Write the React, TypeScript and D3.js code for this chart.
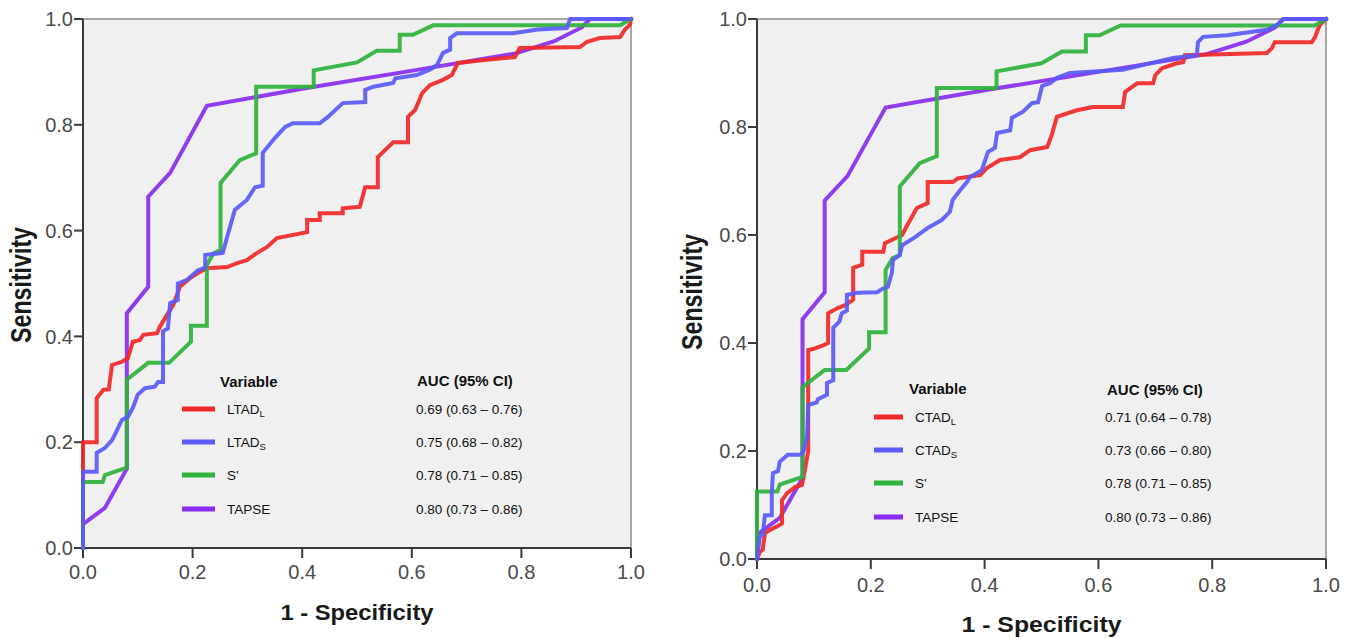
import React from 'react';
import * as d3 from 'd3';

type Pt = [number, number];

const tickValues = [0, 0.2, 0.4, 0.6, 0.8, 1.0];

// TAPSE (same in both panels)
const tapse: Pt[] = [
  [0, 0], [0, 0.045], [0.04, 0.076], [0.08, 0.15], [0.08, 0.444], [0.119, 0.494], [0.119, 0.664],
  [0.159, 0.709], [0.226, 0.836], [0.4, 0.868], [0.64, 0.909], [0.79, 0.935], [0.86, 0.958],
  [0.91, 0.984], [0.925, 1.0], [1, 1],
];

// S' (same in both panels)
const sPrime: Pt[] = [
  [0, 0], [0, 0.125], [0.036, 0.125], [0.04, 0.138], [0.08, 0.152], [0.08, 0.318], [0.119, 0.35],
  [0.157, 0.35], [0.197, 0.39], [0.197, 0.42], [0.226, 0.42], [0.226, 0.535], [0.238, 0.557],
  [0.251, 0.563], [0.251, 0.69], [0.286, 0.733], [0.316, 0.746], [0.316, 0.872], [0.421, 0.872],
  [0.421, 0.903], [0.5, 0.918], [0.536, 0.94], [0.578, 0.94], [0.578, 0.97], [0.602, 0.97],
  [0.639, 0.988], [0.98, 0.988], [1, 1],
];

// LTAD_L (left panel)
const ltadL: Pt[] = [
  [0, 0], [0, 0.2], [0.025, 0.2], [0.025, 0.283], [0.037, 0.299], [0.047, 0.3], [0.053, 0.346],
  [0.071, 0.352], [0.082, 0.359], [0.091, 0.39], [0.104, 0.393], [0.11, 0.403], [0.135, 0.406],
  [0.14, 0.418], [0.15, 0.435], [0.165, 0.46], [0.177, 0.494], [0.195, 0.51], [0.21, 0.52],
  [0.226, 0.529], [0.263, 0.531], [0.28, 0.538], [0.299, 0.544], [0.315, 0.556], [0.336, 0.569],
  [0.354, 0.586], [0.409, 0.597], [0.409, 0.62], [0.432, 0.62], [0.432, 0.633], [0.474, 0.633],
  [0.474, 0.642], [0.505, 0.645], [0.515, 0.682], [0.538, 0.682], [0.538, 0.739], [0.555, 0.756],
  [0.566, 0.767], [0.593, 0.767], [0.593, 0.815], [0.606, 0.828], [0.619, 0.86], [0.633, 0.875],
  [0.657, 0.885], [0.673, 0.894], [0.684, 0.917], [0.728, 0.922], [0.788, 0.928], [0.797, 0.945],
  [0.907, 0.947], [0.92, 0.957], [0.943, 0.964], [0.98, 0.966], [0.989, 0.98], [0.998, 0.989], [1, 1],
];

// LTAD_S (left panel)
const ltadS: Pt[] = [
  [0, 0], [0, 0.144], [0.025, 0.144], [0.025, 0.18], [0.04, 0.189], [0.053, 0.204], [0.058, 0.214],
  [0.071, 0.242], [0.082, 0.248], [0.091, 0.265], [0.1, 0.29], [0.113, 0.302], [0.131, 0.305],
  [0.137, 0.314], [0.146, 0.314], [0.146, 0.41], [0.155, 0.415], [0.159, 0.463], [0.173, 0.469],
  [0.173, 0.5], [0.19, 0.507], [0.21, 0.525], [0.223, 0.53], [0.223, 0.554], [0.255, 0.558],
  [0.263, 0.588], [0.277, 0.639], [0.299, 0.658], [0.314, 0.682], [0.328, 0.685], [0.328, 0.747],
  [0.35, 0.775], [0.369, 0.796], [0.383, 0.803], [0.432, 0.803], [0.447, 0.815], [0.474, 0.841],
  [0.515, 0.843], [0.515, 0.866], [0.53, 0.872], [0.566, 0.879], [0.57, 0.888], [0.609, 0.894],
  [0.633, 0.904], [0.646, 0.913], [0.657, 0.936], [0.67, 0.942], [0.67, 0.964], [0.682, 0.973],
  [0.785, 0.973], [0.83, 0.98], [0.883, 0.983], [0.889, 1.0], [1, 1],
];

// CTAD_L (right panel)
const ctadL: Pt[] = [
  [0, 0], [0.005, 0.013], [0.01, 0.017], [0.014, 0.048], [0.023, 0.054], [0.035, 0.06],
  [0.044, 0.066], [0.044, 0.109], [0.053, 0.122], [0.067, 0.133], [0.079, 0.137], [0.082, 0.152],
  [0.09, 0.2], [0.09, 0.387], [0.102, 0.39], [0.115, 0.395], [0.125, 0.4], [0.125, 0.455],
  [0.14, 0.464], [0.155, 0.47], [0.169, 0.48], [0.169, 0.539], [0.185, 0.545], [0.185, 0.569],
  [0.222, 0.569], [0.225, 0.585], [0.243, 0.594], [0.255, 0.6], [0.264, 0.618], [0.281, 0.65],
  [0.3, 0.659], [0.3, 0.698], [0.344, 0.698], [0.353, 0.705], [0.392, 0.711], [0.404, 0.724],
  [0.427, 0.739], [0.462, 0.744], [0.48, 0.757], [0.51, 0.763], [0.518, 0.785], [0.527, 0.819],
  [0.562, 0.831], [0.591, 0.837], [0.643, 0.837], [0.647, 0.865], [0.668, 0.881], [0.696, 0.881],
  [0.7, 0.896], [0.712, 0.909], [0.738, 0.918], [0.749, 0.92], [0.752, 0.933], [0.896, 0.937],
  [0.905, 0.946], [0.91, 0.957], [0.975, 0.957], [0.981, 0.967], [0.989, 0.989], [1, 1],
];

// CTAD_S (right panel)
const ctadS: Pt[] = [
  [0, 0], [0.005, 0.041], [0.01, 0.045], [0.014, 0.081], [0.026, 0.081], [0.026, 0.122],
  [0.028, 0.159], [0.037, 0.163], [0.04, 0.18], [0.054, 0.193], [0.076, 0.193], [0.082, 0.2],
  [0.088, 0.226], [0.09, 0.285], [0.105, 0.29], [0.107, 0.296], [0.123, 0.304], [0.123, 0.326],
  [0.134, 0.331], [0.134, 0.428], [0.145, 0.44], [0.149, 0.455], [0.158, 0.46], [0.158, 0.489],
  [0.176, 0.493], [0.211, 0.494], [0.22, 0.5], [0.23, 0.504], [0.237, 0.53], [0.239, 0.554],
  [0.251, 0.563], [0.255, 0.581], [0.278, 0.596], [0.3, 0.613], [0.325, 0.628], [0.339, 0.643],
  [0.344, 0.665], [0.357, 0.683], [0.369, 0.698], [0.374, 0.707], [0.395, 0.72], [0.406, 0.754],
  [0.418, 0.761], [0.422, 0.789], [0.445, 0.794], [0.448, 0.817], [0.467, 0.828], [0.483, 0.844],
  [0.494, 0.846], [0.501, 0.876], [0.515, 0.881], [0.527, 0.891], [0.55, 0.9], [0.643, 0.906],
  [0.731, 0.928], [0.773, 0.933], [0.775, 0.957], [0.784, 0.967], [0.826, 0.97], [0.896, 0.98],
  [0.914, 0.989], [0.925, 1.0], [1, 1],
];

const leftNames = ['LTAD', 'LTAD', "S'", 'TAPSE'];
const leftSubs = ['L', 'S', '', ''];
const leftAuc = ['0.69 (0.63 \u2013 0.76)', '0.75 (0.68 \u2013 0.82)', '0.78 (0.71 \u2013 0.85)', '0.80 (0.73 \u2013 0.86)'];
const rightNames = ['CTAD', 'CTAD', "S'", 'TAPSE'];
const rightSubs = ['L', 'S', '', ''];
const rightAuc = ['0.71 (0.64 \u2013 0.78)', '0.73 (0.66 \u2013 0.80)', '0.78 (0.71 \u2013 0.85)', '0.80 (0.73 \u2013 0.86)'];

const COLORS = ['#f02828', '#5a5af8', '#2fb23c', '#8a2cf0'];
const DRAW_ORDER = [3, 0, 2, 1];

const NARROW = "'Liberation Sans Narrow', 'Arial Narrow', 'Liberation Sans', Arial, sans-serif";
const SANS = "'Liberation Sans', Arial, sans-serif";

interface PanelLayout {
  x0: number; x1: number; y0: number; y1: number;
  xLabelY: number; xTitleY: number; xTitleLen: number;
  yTitleX: number; yTitleY: number;
  legLineX0: number; legLineX1: number; legLabelX: number; legVarX: number; legHeadY: number;
  legRowsY: number[]; aucX: number; aucHeadX: number; aucHeadY: number;
}

const leftLayout: PanelLayout = {
  x0: 83, x1: 631, y0: 548, y1: 19,
  xLabelY: 579, xTitleY: 620, xTitleLen: 153,
  yTitleX: 21, yTitleY: 285,
  legLineX0: 182, legLineX1: 215, legLabelX: 227, legVarX: 220, legHeadY: 382,
  legRowsY: [409, 442, 475, 509], aucX: 416, aucHeadX: 417, aucHeadY: 381,
};

const rightLayout: PanelLayout = {
  x0: 757, x1: 1326, y0: 559, y1: 19,
  xLabelY: 592, xTitleY: 632, xTitleLen: 160,
  yTitleX: 692, yTitleY: 292,
  legLineX0: 874, legLineX1: 903, legLabelX: 915, legVarX: 909, legHeadY: 389,
  legRowsY: [417, 450, 483, 517], aucX: 1105, aucHeadX: 1107, aucHeadY: 390,
};

function Panel({ L, series, names, subs, auc }: { L: PanelLayout; series: Pt[][]; names: string[]; subs: string[]; auc: string[] }) {
  const x = d3.scaleLinear().domain([0, 1]).range([L.x0, L.x1]);
  const y = d3.scaleLinear().domain([0, 1]).range([L.y0, L.y1]);
  const line = d3.line<Pt>().x(d => x(d[0])).y(d => y(d[1])).curve(d3.curveLinear);
  const fmt = d3.format('.1f');
  return (
    <g>
      <rect x={L.x0} y={L.y1} width={L.x1 - L.x0} height={L.y0 - L.y1} fill="#f0f0f0" stroke="#8c8c8c" strokeWidth={1.5} />
      {/* axes */}
      <line x1={L.x0} x2={L.x0} y1={L.y1} y2={L.y0} stroke="#3a3a3a" strokeWidth={2} />
      <line x1={L.x0} x2={L.x1} y1={L.y0} y2={L.y0} stroke="#3a3a3a" strokeWidth={2} />
      {tickValues.map(t => (
        <g key={'y' + t}>
          <line x1={L.x0 - 9} x2={L.x0} y1={y(t)} y2={y(t)} stroke="#3a3a3a" strokeWidth={2} />
          <text x={L.x0 - 10} y={y(t)} dy="0.36em" textAnchor="end" fontFamily={NARROW} fontSize={20} fill="#4a4a4a">{fmt(t)}</text>
        </g>
      ))}
      {tickValues.map(t => (
        <g key={'x' + t}>
          <line x1={x(t)} x2={x(t)} y1={L.y0} y2={L.y0 + 10} stroke="#3a3a3a" strokeWidth={2} />
          <text x={x(t)} y={L.xLabelY} textAnchor="middle" fontFamily={NARROW} fontSize={20} fill="#4a4a4a">{fmt(t)}</text>
        </g>
      ))}
      {/* titles */}
      <text x={(L.x0 + L.x1) / 2} y={L.xTitleY} textAnchor="middle" fontFamily={SANS} fontWeight="bold" fontSize={22}
        fill="#1a1a1a" textLength={L.xTitleLen} lengthAdjust="spacingAndGlyphs">1 - Specificity</text>
      <text transform={`translate(${L.yTitleX},${L.yTitleY}) rotate(-90) scale(1,1.3)`} x={0} y={0} dy="0.36em" textAnchor="middle"
        fontFamily={SANS} fontWeight="bold" fontSize={22} fill="#1a1a1a" textLength={116} lengthAdjust="spacingAndGlyphs">Sensitivity</text>
      {/* curves */}
      {DRAW_ORDER.map(i => (
        <path key={'c' + i} d={line(series[i]) || ''} fill="none" stroke={COLORS[i]} strokeWidth={4} strokeLinejoin="miter" strokeLinecap="square" strokeOpacity={0.92} />
      ))}
      {/* legend */}
      <text x={L.legVarX} y={L.legHeadY} dy="0.36em" fontFamily={SANS} fontWeight="bold" fontSize={15} fill="#111">Variable</text>
      <text x={L.aucHeadX} y={L.aucHeadY} dy="0.36em" fontFamily={SANS} fontWeight="bold" fontSize={15} fill="#111">AUC (95% CI)</text>
      {names.map((n, i) => (
        <g key={'l' + i}>
          <line x1={L.legLineX0} x2={L.legLineX1} y1={L.legRowsY[i]} y2={L.legRowsY[i]} stroke={COLORS[i]} strokeWidth={5} />
          <text x={L.legLabelX} y={L.legRowsY[i]} dy="0.36em" fontFamily={SANS} fontSize={13.5} fill="#111">
            {n}
            {subs[i] ? <tspan fontSize={9.5} dy={3}>{subs[i]}</tspan> : null}
          </text>
          <text x={L.aucX} y={L.legRowsY[i]} dy="0.36em" fontFamily={SANS} fontSize={13.5} fill="#111">{auc[i]}</text>
        </g>
      ))}
    </g>
  );
}

export default function App() {
  return (
    <svg width={1352} height={638} viewBox="0 0 1352 638" style={{ position: 'absolute', left: 0, top: 0, background: '#fff' }}>
      <rect x={0} y={0} width={1352} height={638} fill="#fff" />
      <Panel L={leftLayout} series={[ltadL, ltadS, sPrime, tapse]} names={leftNames} subs={leftSubs} auc={leftAuc} />
      <Panel L={rightLayout} series={[ctadL, ctadS, sPrime, tapse]} names={rightNames} subs={rightSubs} auc={rightAuc} />
    </svg>
  );
}
